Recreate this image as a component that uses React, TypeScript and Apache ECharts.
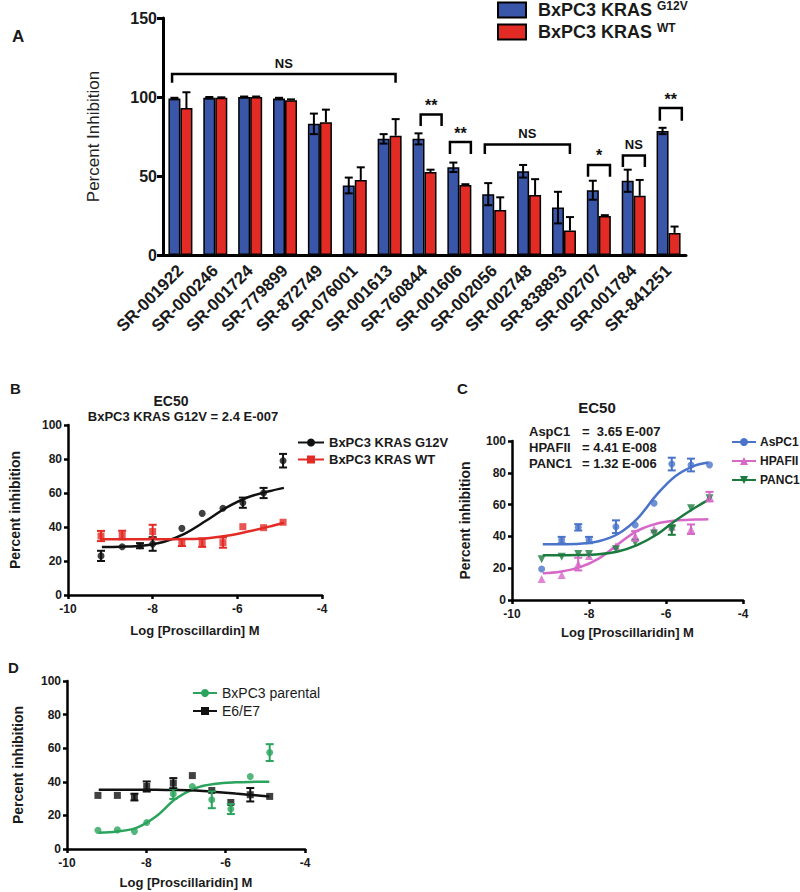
import React, { useEffect, useRef } from "react";
import * as echarts from "echarts";

const FONT = "'Liberation Sans', Arial, Helvetica, sans-serif";

// ---------- Panel A ----------
const compounds = ["SR-001922", "SR-000246", "SR-001724", "SR-779899", "SR-872749", "SR-076001", "SR-001613", "SR-760844", "SR-001606", "SR-002056", "SR-002748", "SR-838893", "SR-002707", "SR-001784", "SR-841251"];
const g12vBars = [99, 99.5, 100, 99, 83, 44, 73.5, 73.5, 55.5, 38.5, 53, 30, 41, 47, 78.5];
const g12vBarErr = [0.5, 0.5, 0.3, 0.5, 6.5, 5, 3, 3.5, 3, 7, 4, 10, 6, 7, 2];
const wtBars = [93, 99.5, 100, 98, 84, 47.5, 75.5, 52.5, 44.3, 28.5, 38, 15.5, 24.7, 37.5, 14];
const wtBarErr = [10, 0.3, 0.3, 0.5, 8, 8, 10.5, 1.5, 0.5, 8, 10, 8.5, 0.5, 10, 4];
const brackets = [
  { from: 0, to: 6, fs: -0.24, fe: 0.17, top: 114.5, tip: 109, label: "NS" },
  { from: 7, to: 7, fs: -0.11, fe: 0.49, top: 89, tip: 81.6, label: "**" },
  { from: 8, to: 8, fs: -0.27, fe: 0.33, top: 71.5, tip: 64, label: "**" },
  { from: 9, to: 11, fs: -0.27, fe: 0.17, top: 70, tip: 64, label: "NS" },
  { from: 12, to: 12, fs: -0.31, fe: 0.32, top: 57, tip: 49.5, label: "*" },
  { from: 13, to: 13, fs: -0.31, fe: 0.32, top: 63, tip: 55.7, label: "NS" },
  { from: 14, to: 14, fs: -0.25, fe: 0.38, top: 93, tip: 85, label: "**" },
];

// ---------- Panel B ----------
const xB = [-9.22, -8.72, -8.3, -8.0, -7.31, -6.83, -6.34, -5.87, -5.38, -4.92];
const g12vPts = [23, 28.4, 29, 30, 39.2, 48, 51, 54.3, 60, 79];
const g12vPtsErr = [3, 0, 1.5, 4, 0, 0, 0, 3, 3, 4];
const xBwt = [-9.22, -8.72, -8.0, -7.31, -6.83, -6.34, -5.87, -5.38, -4.92];
const wtPts = [34.7, 35.3, 37.3, 30.8, 30.8, 30.8, 40.2, 39.6, 42.8];
const wtPtsErr = [3, 2.5, 4, 2, 2.5, 3, 0, 0, 0];
const fitX = [-9.2, -8.75, -8.25, -7.75, -7.25, -6.75, -6.25, -5.75, -5.25, -4.9];
const g12vFit = [28.2, 28.4, 29, 31.2, 36, 43.5, 51.5, 57.5, 61, 63];
const wtFit = [32.8, 32.8, 32.8, 32.8, 32.9, 33.3, 34.8, 37.3, 40.2, 42.5];

// ---------- Panel C ----------
const xC = [-9.23, -8.71, -8.28, -8.0, -7.3, -6.8, -6.31, -5.85, -5.35, -4.87];
const aspc1 = [19.5, 37.7, 45.7, 37.7, 46.1, 47.2, 60.8, 85.5, 84.9, 85];
const aspc1Err = [0, 2, 2, 2, 4, 0, 0, 4, 4, 0];
const hpafii = [13.2, 15.7, 22.6, 27.7, 34, 40.3, 44.5, 46.1, 44.5, 65];
const hpafiiErr = [0, 0, 4, 0, 0, 3, 0, 0, 3, 3];
const panc1 = [25.6, 27.2, 28.9, 28.9, 31.9, 36, 41.9, 44, 57.7, 64];
const panc1Err = [0, 0, 0, 0, 0, 0, 0, 3, 0, 0];
const aspc1Fit = [35, 35.1, 35.4, 37, 41.5, 51, 66, 78, 84.5, 86.5];
const hpafiiFit = [16.8, 17.8, 20.5, 26, 35, 43.5, 48, 50, 50.6, 50.8];
const panc1Fit = [28.2, 28.2, 28.3, 28.8, 30.5, 34.5, 41, 50, 58, 63];
const ec50Names = ["AspC1", "HPAFII", "PANC1"];
const ec50Values = ["=  3.65 E-007", "= 4.41 E-008", "= 1.32 E-006"];

// ---------- Panel D ----------
const xD = [-9.22, -8.73, -8.3, -7.99, -7.32, -6.84, -6.35, -5.87, -5.38, -4.89];
const parental = [11.1, 11.4, 10.5, 15.8, 32.8, 37.2, 29.3, 23.8, 43.1, 57.4];
const parentalErr = [0, 0, 0, 0, 3, 0, 5, 3, 0, 5];
const e6e7 = [31.9, 31.9, 30.9, 37.2, 39.2, 43.7, 34.8, 27.7, 32.3, 31.3];
const e6e7Err = [0, 0, 2, 3, 3, 0, 0, 0, 4, 0];
const parentalFit = [9.6, 10.4, 12.6, 19.5, 30, 36.3, 38.8, 39.7, 40, 40.1];
const e6e7Fit = [35.2, 35.2, 35.2, 35.2, 35.1, 34.8, 34, 33, 32, 31.2];

const BLUE = "#3a56a8";
const RED = "#e32b26";

function txt(text: string, x: number, y: number, font: string, align = "left", fill = "#1a1a1a") {
  return {
    type: "text",
    x,
    y,
    style: { text, font, fill, align, verticalAlign: "middle", textAlign: align, textVerticalAlign: "middle" },
  };
}

function errSeries(xs: number[], ys: number[], es: number[], color: string) {
  const data = xs.map((x, i) => [x, ys[i], es[i]]).filter((d) => d[2] > 0);
  return {
    type: "custom",
    silent: true,
    z: 4,
    data,
    renderItem: (_p: any, api: any) => {
      const x = api.value(0), y = api.value(1), e = api.value(2);
      const t = api.coord([x, y + e]);
      const b = api.coord([x, y - e]);
      const w = 4;
      const st = { stroke: color, lineWidth: 2 };
      return {
        type: "group",
        children: [
          { type: "line", shape: { x1: t[0], y1: t[1], x2: b[0], y2: b[1] }, style: st },
          { type: "line", shape: { x1: t[0] - w, y1: t[1], x2: t[0] + w, y2: t[1] }, style: st },
          { type: "line", shape: { x1: b[0] - w, y1: b[1], x2: b[0] + w, y2: b[1] }, style: st },
        ],
      };
    },
  };
}

function curveSeries(name: string, ys: number[], color: string, symbol: string, rotate = 0) {
  return {
    type: "line",
    name,
    data: fitX.map((x, i) => [x, ys[i]]),
    smooth: 0.35,
    showSymbol: false,
    symbol,
    symbolRotate: rotate,
    lineStyle: { color, width: 2.5 },
    itemStyle: { color },
    z: 2,
  };
}

function pointSeries(name: string, xs: number[], ys: number[], color: string, symbol: string, size = 7, rotate = 0) {
  return {
    type: "scatter",
    name,
    data: xs.map((x, i) => [x, ys[i]]),
    symbol,
    symbolSize: size,
    symbolRotate: rotate,
    itemStyle: { color },
    z: 3,
  };
}

function doseAxes(grid: any, xName: string, xGap: number, yGap: number) {
  const line = { show: true, onZero: false, lineStyle: { color: "#000", width: 2.5 } };
  const tick = { show: true, length: 4, lineStyle: { color: "#000", width: 2.5 } };
  const labX = { color: "#1a1a1a", fontWeight: "bold", fontSize: 12, fontFamily: FONT, margin: 8 };
  const labY = { color: "#1a1a1a", fontWeight: "bold", fontSize: 12, fontFamily: FONT, margin: 6 };
  return {
    grid,
    xAxis: {
      type: "value", min: -10, max: -4, interval: 2,
      name: xName, nameLocation: "middle", nameGap: xGap,
      nameTextStyle: { color: "#1a1a1a", fontWeight: "bold", fontSize: 13, fontFamily: FONT },
      axisLine: line, axisTick: tick, axisLabel: labX, splitLine: { show: false },
    },
    yAxis: {
      type: "value", min: 0, max: 100, interval: 20,
      name: "Percent inhibition", nameLocation: "middle", nameGap: yGap,
      nameTextStyle: { color: "#1a1a1a", fontWeight: "bold", fontSize: 14, fontFamily: FONT },
      axisLine: line, axisTick: tick, axisLabel: labY, splitLine: { show: false },
    },
  };
}

function optA() {
  const errBlue = {
    type: "custom", silent: true, z: 5,
    data: g12vBars.map((v, i) => [i, v, g12vBarErr[i]]),
    renderItem: (_p: any, api: any) => {
      const i = api.value(0), v = api.value(1), e = api.value(2);
      const c = api.coord([i, v]);
      const x = c[0] - 6;
      const t = api.coord([i, v + e])[1];
      const b = api.coord([i, v - e])[1];
      const st = { stroke: "#000", lineWidth: 2 };
      return {
        type: "group", children: [
          { type: "line", shape: { x1: x, y1: t, x2: x, y2: b }, style: st },
          { type: "line", shape: { x1: x - 4, y1: t, x2: x + 4, y2: t }, style: st },
          { type: "line", shape: { x1: x - 4, y1: b, x2: x + 4, y2: b }, style: st },
        ],
      };
    },
  };
  const errRed = {
    type: "custom", silent: true, z: 5,
    data: wtBars.map((v, i) => [i, v, wtBarErr[i]]),
    renderItem: (_p: any, api: any) => {
      const i = api.value(0), v = api.value(1), e = api.value(2);
      const c = api.coord([i, v]);
      const x = c[0] + 6;
      const t = api.coord([i, v + e])[1];
      const st = { stroke: "#000", lineWidth: 2 };
      return {
        type: "group", children: [
          { type: "line", shape: { x1: x, y1: t, x2: x, y2: c[1] }, style: st },
          { type: "line", shape: { x1: x - 4, y1: t, x2: x + 4, y2: t }, style: st },
        ],
      };
    },
  };
  const bracketSeries = {
    type: "custom", silent: true, z: 6,
    data: brackets.map((b) => [b.from, b.top]),
    renderItem: (p: any, api: any) => {
      const b = brackets[p.dataIndex];
      const band = api.size([1, 0])[0];
      const x1 = api.coord([b.from, b.top])[0] + b.fs * band;
      const x2 = api.coord([b.to, b.top])[0] + b.fe * band;
      const yt = api.coord([b.from, b.top])[1];
      const yb = api.coord([b.from, b.tip])[1];
      return {
        type: "group", children: [
          { type: "polyline", shape: { points: [[x1, yb], [x1, yt], [x2, yt], [x2, yb]] }, style: { stroke: "#000", lineWidth: 2.5, fill: null } },
          {
            type: "text", x: (x1 + x2) / 2, y: yt - (b.label === "NS" ? 11 : 9),
            style: { text: b.label, font: `bold ${b.label === "NS" ? 13 : 16}px ${FONT}`, fill: "#111", align: "center", verticalAlign: "middle", textAlign: "center", textVerticalAlign: "middle" },
          },
        ],
      };
    },
  };
  return {
    animation: false,
    grid: { left: 163, top: 18, width: 523, height: 237 },
    legend: {
      left: 497, top: 0, padding: 0, orient: "vertical", itemWidth: 28, itemHeight: 15, itemGap: 3,
      icon: "rect",
      itemStyle: { borderColor: "#000", borderWidth: 2 },
      data: ["BxPC3 KRAS G12V", "BxPC3 KRAS WT"],
      formatter: (n: string) => (n === "BxPC3 KRAS G12V" ? "{b|BxPC3 KRAS }{s|G12V}" : "{b|BxPC3 KRAS }{s|WT}"),
      textStyle: {
        padding: [0, 0, 0, 7],
        rich: {
          b: { fontSize: 18, fontWeight: "bold", fontFamily: FONT, color: "#1a1a1a", lineHeight: 20 },
          s: { fontSize: 12, fontWeight: "bold", fontFamily: FONT, color: "#1a1a1a", verticalAlign: "top", lineHeight: 13 },
        },
      },
    },
    xAxis: {
      type: "category", data: compounds,
      axisLine: { lineStyle: { color: "#000", width: 3 } },
      axisTick: { alignWithLabel: true, length: 6, lineStyle: { color: "#000", width: 3 } },
      axisLabel: { rotate: 45, interval: 0, fontWeight: "bold", fontSize: 17, color: "#1a1a1a", fontFamily: FONT, margin: 13 },
    },
    yAxis: {
      type: "value", min: 0, max: 150, interval: 50,
      name: "Percent Inhibition", nameLocation: "middle", nameGap: 61,
      nameTextStyle: { fontSize: 17, color: "#222", fontFamily: FONT },
      axisLine: { show: true, lineStyle: { color: "#000", width: 3 } },
      axisTick: { show: true, length: 6, lineStyle: { color: "#000", width: 3 } },
      axisLabel: { fontWeight: "bold", fontSize: 16, color: "#1a1a1a", fontFamily: FONT, margin: 6 },
      splitLine: { show: false },
    },
    series: [
      { type: "bar", name: "BxPC3 KRAS G12V", data: g12vBars, barWidth: 12, barGap: "0%", itemStyle: { color: BLUE, borderColor: "#000", borderWidth: 1.5 } },
      { type: "bar", name: "BxPC3 KRAS WT", data: wtBars, barWidth: 12, barGap: "0%", itemStyle: { color: RED, borderColor: "#000", borderWidth: 1.5 } },
      errBlue, errRed, bracketSeries,
    ],
    graphic: [txt("A", 12, 36, `bold 17px ${FONT}`)],
  };
}

function optB() {
  return {
    animation: false,
    ...doseAxes({ left: 68, top: 425, width: 254, height: 170 }, "Log [Proscillardin] M", 29, 46),
    legend: {
      left: 297, top: 436, padding: 0, orient: "vertical", itemWidth: 26, itemHeight: 10, itemGap: 4,
      data: ["BxPC3 KRAS G12V", "BxPC3 KRAS WT"],
      textStyle: { fontSize: 13, fontWeight: "bold", fontFamily: FONT, color: "#1a1a1a" },
    },
    series: [
      curveSeries("BxPC3 KRAS G12V", g12vFit, "#111", "circle"),
      curveSeries("BxPC3 KRAS WT", wtFit, RED, "rect"),
      pointSeries("BxPC3 KRAS G12V", xB, g12vPts, "#111", "circle"),
      pointSeries("BxPC3 KRAS WT", xBwt, wtPts, RED, "rect"),
      errSeries(xB, g12vPts, g12vPtsErr, "#111"),
      errSeries(xBwt, wtPts, wtPtsErr, RED),
    ],
    graphic: [
      txt("B", 10, 388, `bold 15px ${FONT}`),
      txt("EC50", 171, 401, `bold 14px ${FONT}`, "center"),
      txt("BxPC3 KRAS G12V = 2.4 E-007", 183, 416, `bold 13px ${FONT}`, "center"),
    ],
  };
}

function optC() {
  const CB = "#4a74c9", CP = "#d768c8", CG = "#1b7a3e";
  const g: any[] = [
    txt("C", 457, 388, `bold 15px ${FONT}`),
    txt("EC50", 597, 407, `bold 15px ${FONT}`, "center"),
  ];
  ec50Names.forEach((n, i) => {
    g.push(txt(n, 529, 431 + i * 16, `bold 13px ${FONT}`));
    g.push(txt(ec50Values[i], 582, 431 + i * 16, `bold 13px ${FONT}`));
  });
  return {
    animation: false,
    ...doseAxes({ left: 512, top: 441, width: 231, height: 159 }, "Log [Proscillaridin] M", 26, 40),
    legend: {
      left: 731, top: 436, padding: 0, orient: "vertical", itemWidth: 24, itemHeight: 10, itemGap: 7,
      data: ["AsPC1", "HPAFII", "PANC1"],
      textStyle: { fontSize: 12, fontWeight: "bold", fontFamily: FONT, color: "#1a1a1a", padding: [0, 0, 0, -1] },
    },
    series: [
      curveSeries("AsPC1", aspc1Fit, CB, "circle"),
      curveSeries("HPAFII", hpafiiFit, CP, "triangle"),
      curveSeries("PANC1", panc1Fit, CG, "triangle", 180),
      pointSeries("AsPC1", xC, aspc1, CB, "circle"),
      pointSeries("HPAFII", xC, hpafii, CP, "triangle", 8),
      pointSeries("PANC1", xC, panc1, CG, "triangle", 8, 180),
      errSeries(xC, aspc1, aspc1Err, CB),
      errSeries(xC, hpafii, hpafiiErr, CP),
      errSeries(xC, panc1, panc1Err, CG),
    ],
    graphic: g,
  };
}

function optD() {
  const DG = "#2aa45c";
  return {
    animation: false,
    ...doseAxes({ left: 67, top: 681, width: 238, height: 168 }, "Log [Proscillaridin] M", 27, 42),
    legend: {
      left: 192, top: 686, padding: 0, orient: "vertical", itemWidth: 24, itemHeight: 10, itemGap: 4,
      data: ["BxPC3 parental", "E6/E7"],
      textStyle: { fontSize: 14, fontFamily: FONT, color: "#1a1a1a" },
    },
    series: [
      curveSeries("BxPC3 parental", parentalFit, DG, "circle"),
      curveSeries("E6/E7", e6e7Fit, "#111", "rect"),
      pointSeries("BxPC3 parental", xD, parental, DG, "circle"),
      pointSeries("E6/E7", xD, e6e7, "#111", "rect"),
      errSeries(xD, parental, parentalErr, DG),
      errSeries(xD, e6e7, e6e7Err, "#111"),
    ],
    graphic: [txt("D", 8, 667, `bold 15px ${FONT}`)],
  };
}

export default function App() {
  const r0 = useRef<HTMLDivElement>(null);
  const r1 = useRef<HTMLDivElement>(null);
  const r2 = useRef<HTMLDivElement>(null);
  const r3 = useRef<HTMLDivElement>(null);
  useEffect(() => {
    const refs = [r0, r1, r2, r3];
    const opts = [optA(), optB(), optC(), optD()];
    const charts = refs.map((r, i) => {
      const c = echarts.init(r.current as HTMLDivElement, null, { renderer: "svg" });
      c.setOption(opts[i] as any);
      return c;
    });
    return () => charts.forEach((c) => c.dispose());
  }, []);
  const s: React.CSSProperties = { position: "absolute", left: 0, top: 0, width: 800, height: 892 };
  return (
    <div style={{ position: "absolute", left: 0, top: 0, width: 800, height: 892, background: "#fff" }}>
      <div ref={r0} style={s} />
      <div ref={r1} style={s} />
      <div ref={r2} style={s} />
      <div ref={r3} style={s} />
    </div>
  );
}
